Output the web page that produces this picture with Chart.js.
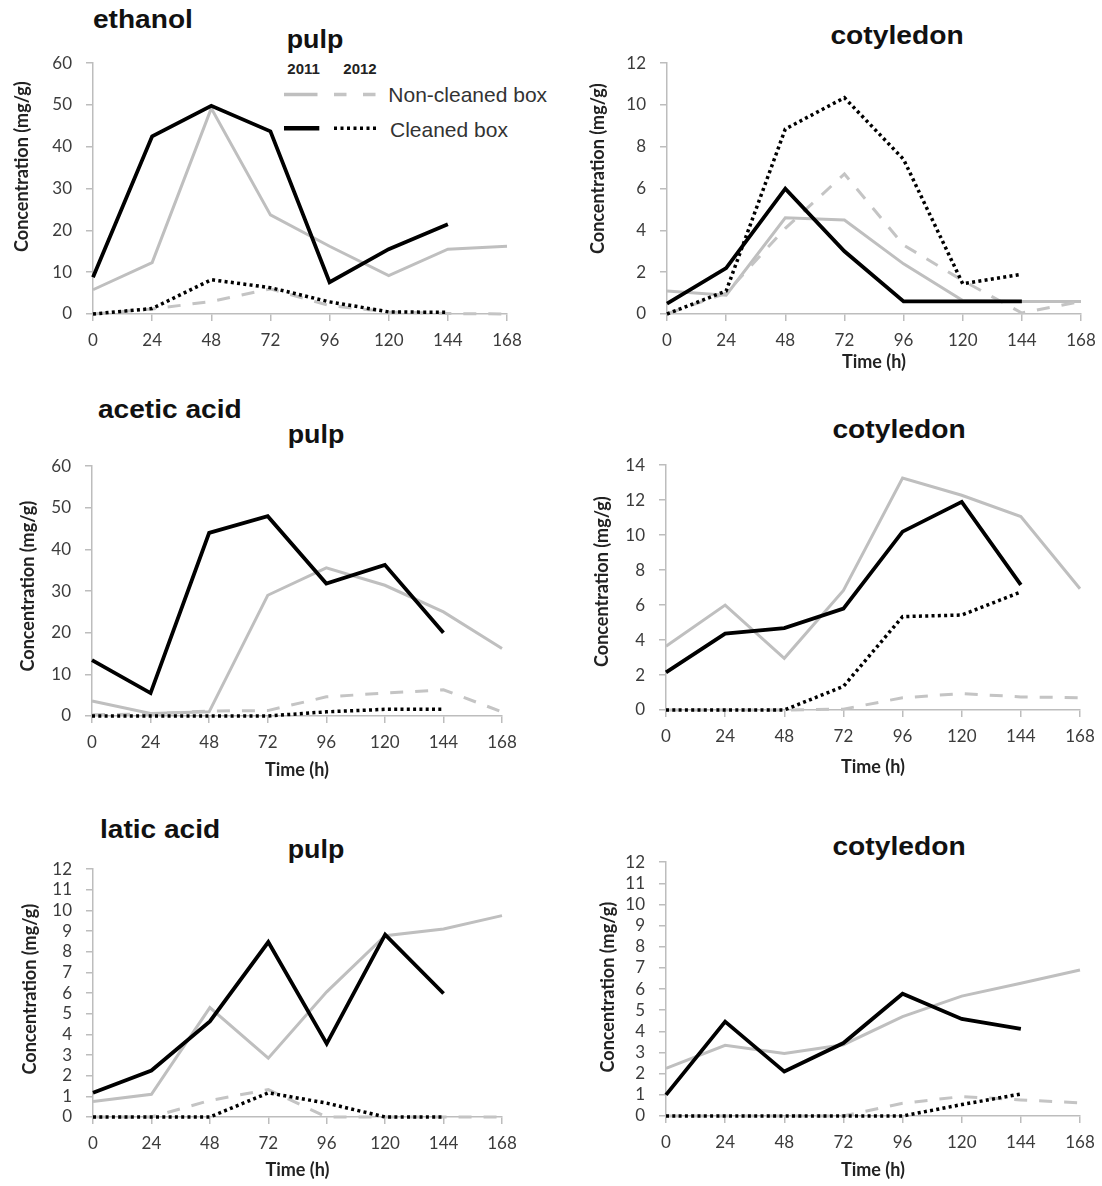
<!DOCTYPE html>
<html><head><meta charset="utf-8">
<script src="https://cdn.jsdelivr.net/npm/chart.js@4.4.0/dist/chart.umd.min.js"></script>
<style>
html,body{margin:0;padding:0;background:#fff;}
#wrap{position:relative;width:1102px;height:1186px;overflow:hidden;background:#fff;}
.pc{position:absolute;}
.t{position:absolute;font-family:"Liberation Sans",Arial,sans-serif;font-weight:bold;color:#111;white-space:nowrap;font-size:26px;line-height:26px;}
.ta{transform-origin:left center;transform:scaleX(1.08);}
.tp{transform:translateX(-50%) scaleX(1.03);}
.tc{transform:translateX(-50%) scaleX(1.085);}
.lg{position:absolute;font-family:"Liberation Sans",Arial,sans-serif;font-size:21px;line-height:21px;color:#333;white-space:nowrap;}
.yr{position:absolute;font-family:"Liberation Sans",Arial,sans-serif;font-weight:bold;font-size:15px;line-height:15px;color:#222;}
</style></head>
<body><div id="wrap">
<div class="t ta" style="left:93.3px;top:5.7px">ethanol</div>
<div class="t tp" style="left:315px;top:25.7px">pulp</div>
<div class="t tc" style="left:897.3px;top:22.3px">cotyledon</div>
<div class="t ta" style="left:97.5px;top:396px">acetic acid</div>
<div class="t tp" style="left:315.7px;top:421px">pulp</div>
<div class="t tc" style="left:898.5px;top:416px">cotyledon</div>
<div class="t ta" style="left:100px;top:816px">latic acid</div>
<div class="t tp" style="left:315.7px;top:836px">pulp</div>
<div class="t tc" style="left:898.5px;top:833px">cotyledon</div>
<div class="yr" style="left:287.3px;top:61.3px">2011</div>
<div class="yr" style="left:343.3px;top:61.3px">2012</div>
<svg style="position:absolute;left:0;top:0" width="400" height="150">
<line x1="284" y1="94.5" x2="317.5" y2="94.5" stroke="#bfbfbf" stroke-width="3.5"/>
<line x1="334" y1="94.5" x2="376" y2="94.5" stroke="#c4c4c4" stroke-width="3.5" stroke-dasharray="12.5 16.5"/>
<line x1="284" y1="128.3" x2="319.3" y2="128.3" stroke="#000" stroke-width="4.5"/>
<line x1="334" y1="128.3" x2="376" y2="128.3" stroke="#000" stroke-width="3.5" stroke-dasharray="3 3.5"/>
</svg>
<div class="lg" style="left:388.3px;top:83.9px">Non-cleaned box</div>
<div class="lg" style="left:390px;top:118.9px">Cleaned box</div>
</div>
<script>
// ---------- data ----------
const hours = [0, 24, 48, 72, 96, 120, 144, 168];
const seriesNames = ['2012 Cleaned box', '2011 Cleaned box', '2012 Non-cleaned box', '2011 Non-cleaned box'];
const yAxisTitle = 'Concentration (mg/g)';
const xAxisTitle = 'Time (h)';

// ethanol - pulp
const ethPulp2011Non   = [5.8, 12.3, 49.2, 23.7, 16.2, 9.2, 15.5, 16.2];
const ethPulp2012Non   = [0, 1.2, 3.0, 6.0, 2.0, 0.5, 0.1, 0];
const ethPulp2011Clean = [8.8, 42.5, 49.8, 43.7, 7.6, 15.5, 21.5, null];
const ethPulp2012Clean = [0, 1.3, 8.2, 6.3, 2.9, 0.5, 0.4, null];
// ethanol - cotyledon
const ethCot2011Non    = [1.1, 0.9, 4.6, 4.5, 2.4, 0.65, 0.6, 0.6];
const ethCot2012Non    = [0, 1.0, 4.1, 6.7, 3.3, 1.6, 0.05, 0.6];
const ethCot2011Clean  = [0.5, 2.2, 6.0, 3.0, 0.6, 0.6, 0.6, null];
const ethCot2012Clean  = [0, 1.1, 8.85, 10.35, 7.4, 1.45, 1.9, null];
// acetic acid - pulp
const acePulp2011Non   = [3.6, 0.6, 1.0, 29.0, 35.6, 31.4, 25.0, 16.2];
const acePulp2012Non   = [0.3, 0.5, 1.2, 1.3, 4.6, 5.5, 6.3, 1.0];
const acePulp2011Clean = [13.4, 5.5, 44.0, 48.0, 31.8, 36.3, 20.0, null];
const acePulp2012Clean = [0, 0, 0, 0, 1.0, 1.6, 1.6, null];
// acetic acid - cotyledon
const aceCot2011Non    = [3.65, 6.0, 2.96, 6.84, 13.27, 12.28, 11.06, 6.93];
const aceCot2012Non    = [0, 0, 0, 0.05, 0.7, 0.94, 0.75, 0.7];
const aceCot2011Clean  = [2.15, 4.37, 4.68, 5.8, 10.2, 11.9, 7.16, null];
const aceCot2012Clean  = [0, 0, 0, 1.35, 5.34, 5.43, 6.75, null];
// latic acid - pulp
const latPulp2011Non   = [0.75, 1.1, 5.3, 2.85, 6.06, 8.78, 9.1, 9.75];
const latPulp2012Non   = [0, 0, 0.8, 1.33, 0, 0, 0, 0];
const latPulp2011Clean = [1.17, 2.25, 4.63, 8.47, 3.55, 8.83, 5.98, null];
const latPulp2012Clean = [0, 0, 0, 1.17, 0.67, 0, 0, null];
// latic acid - cotyledon
const latCot2011Non    = [2.25, 3.34, 2.95, 3.37, 4.7, 5.67, 6.28, 6.9];
const latCot2012Non    = [0, 0, 0, 0, 0.6, 0.92, 0.76, 0.62];
const latCot2011Clean  = [1.0, 4.46, 2.1, 3.45, 5.78, 4.59, 4.12, null];
const latCot2012Clean  = [0, 0, 0, 0, 0, 0.54, 1.04, null];

// ---------- rendering ----------
const yTitlePlugin = {
  id: 'yTitle',
  afterDraw(chart, args, o) {
    if (!o || !o.text) return;
    const ctx = chart.ctx, a = chart.chartArea;
    ctx.save();
    ctx.font = o.font; ctx.fillStyle = o.color;
    ctx.textAlign = 'center'; ctx.textBaseline = 'middle';
    ctx.translate(a.left - o.dx, (a.top + a.bottom) / 2 + o.dy);
    ctx.rotate(-Math.PI / 2);
    ctx.fillText(o.text, 0, 0);
    ctx.restore();
  }
};
Chart.register(yTitlePlugin);

const axisColor = '#bdbdbd';
const tickColor = '#3c3c3c';
const tickFont = {family: 'Lato', size: 17};
const wrap = document.getElementById('wrap');

function pts(arr) { return hours.map((h, i) => ({x: h, y: arr[i]})); }

function makePanel(p) {
  const L = 90, T = 20, R = 25, B = 70;
  const w = p.right - p.left + L + R, h = p.bottom - p.top + T + B;
  const el = document.createElement('div');
  el.className = 'pc';
  el.style.left = (p.left - L) + 'px'; el.style.top = (p.top - T) + 'px';
  el.style.width = w + 'px'; el.style.height = h + 'px';
  const c = document.createElement('canvas');
  c.width = w; c.height = h; c.style.width = w + 'px'; c.style.height = h + 'px';
  el.appendChild(c); wrap.appendChild(el);
  const titleLH = 18 * 1.2;
  new Chart(c, {
    type: 'line',
    data: {datasets: [
      {label: seriesNames[0], data: pts(p.s[3]), borderColor: '#000', borderWidth: 3.5, borderDash: [3, 3.3]},
      {label: seriesNames[1], data: pts(p.s[2]), borderColor: '#000', borderWidth: 3.8},
      {label: seriesNames[2], data: pts(p.s[1]), borderColor: '#c4c4c4', borderWidth: 3, borderDash: [13, 12]},
      {label: seriesNames[3], data: pts(p.s[0]), borderColor: '#bfbfbf', borderWidth: 3}
    ].map(d => Object.assign(d, {pointRadius: 0, tension: 0, fill: false, clip: 6, spanGaps: false}))},
    options: {
      responsive: false, animation: false, devicePixelRatio: 1,
      layout: {padding: {top: T, right: R, left: 0, bottom: 0}},
      plugins: {
        legend: {display: false}, tooltip: {enabled: false},
        yTitle: {text: yAxisTitle, font: 'bold 18px Lato', color: '#222', dx: p.dx, dy: p.dy}
      },
      scales: {
        x: {
          type: 'linear', min: 0, max: 168,
          afterFit: s => { s.height = B; },
          ticks: {stepSize: 24, font: tickFont, color: tickColor, padding: 9, maxRotation: 0, autoSkip: false},
          grid: {drawOnChartArea: false, drawTicks: true, tickLength: 7, color: axisColor, lineWidth: 1.5},
          border: {color: axisColor, width: 1.5},
          title: {display: p.xTitle, text: xAxisTitle, font: {family: 'Lato', size: 18, weight: 'bold'}, color: '#222',
                  padding: {top: 0, bottom: Math.max(0, B - p.xDist - titleLH / 2)}}
        },
        y: {
          min: 0, max: p.ymax,
          afterFit: s => { s.width = L; },
          ticks: {stepSize: p.step, font: tickFont, color: tickColor, padding: 14, autoSkip: false},
          grid: {drawOnChartArea: false, drawTicks: true, tickLength: 7, color: axisColor, lineWidth: 1.5},
          border: {color: axisColor, width: 1.5},
          title: {display: false}
        }
      }
    }
  });
}

makePanel({left: 93, right: 507, top: 59, bottom: 314, ymax: 60, step: 10, xTitle: false, xDist: 48, dx: 70.7, dy: -22,
  s: [ethPulp2011Non, ethPulp2012Non, ethPulp2011Clean, ethPulp2012Clean]});
makePanel({left: 667, right: 1081, top: 59, bottom: 314, ymax: 12, step: 2, xTitle: true, xDist: 48, dx: 68.5, dy: -20,
  s: [ethCot2011Non, ethCot2012Non, ethCot2011Clean, ethCot2012Clean]});
makePanel({left: 92, right: 502, top: 462, bottom: 716, ymax: 60, step: 10, xTitle: true, xDist: 54, dx: 64, dy: -5,
  s: [acePulp2011Non, acePulp2012Non, acePulp2011Clean, acePulp2012Clean]});
makePanel({left: 666, right: 1080, top: 461, bottom: 710, ymax: 14, step: 2, xTitle: true, xDist: 57, dx: 63.4, dy: -6,
  s: [aceCot2011Non, aceCot2012Non, aceCot2011Clean, aceCot2012Clean]});
makePanel({left: 93, right: 502, top: 865, bottom: 1117, ymax: 12, step: 1, xTitle: true, xDist: 53, dx: 63.2, dy: -4,
  s: [latPulp2011Non, latPulp2012Non, latPulp2011Clean, latPulp2012Clean]});
makePanel({left: 666, right: 1080, top: 858, bottom: 1116, ymax: 12, step: 1, xTitle: true, xDist: 54, dx: 57.4, dy: -2,
  s: [latCot2011Non, latCot2012Non, latCot2011Clean, latCot2012Clean]});
</script>
</body></html>
